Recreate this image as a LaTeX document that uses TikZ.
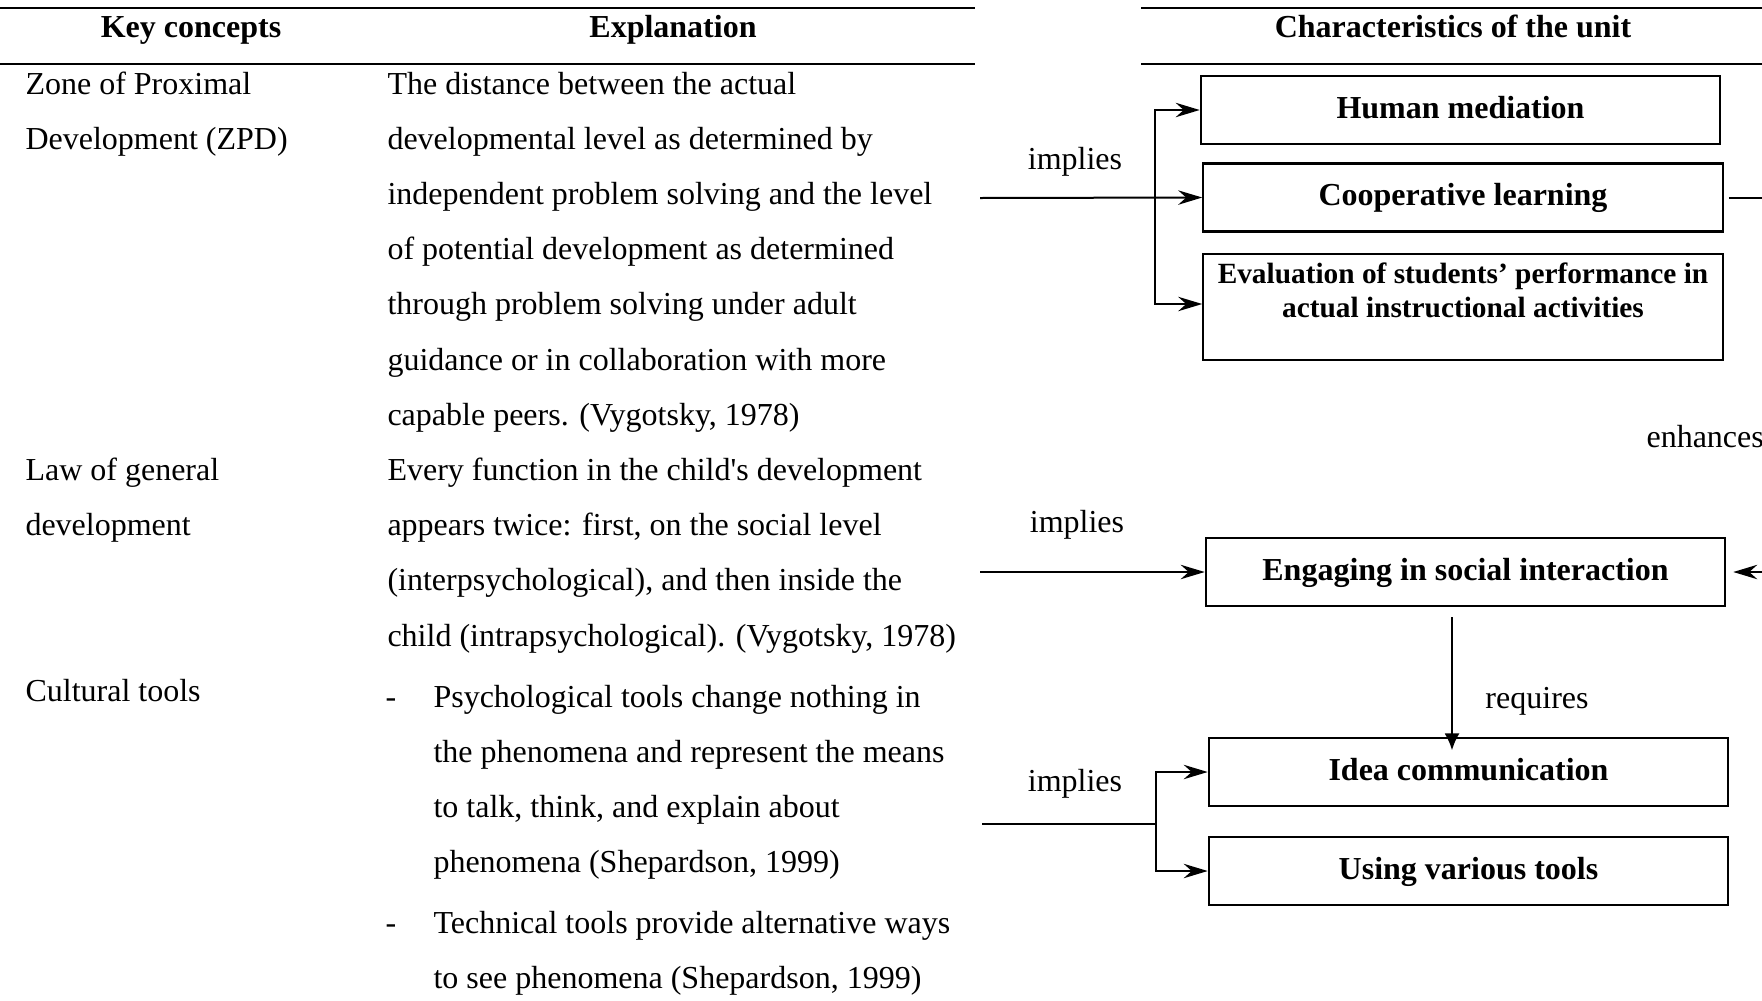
\documentclass[tikz,border=0pt]{standalone}
\usepackage{fontspec}
\setmainfont{Liberation Serif}
\usetikzlibrary{arrows.meta,calc}
\begin{document}
\begin{tikzpicture}[x=0.375pt,y=-0.375pt,
  body/.style={inner sep=0pt, font=\fontsize{12}{14}\selectfont},
  head/.style={inner sep=0pt, anchor=base, font=\fontsize{12}{14}\selectfont\bfseries},
  rule/.style={line width=1pt},
  box/.style={draw, line width=0.8pt, rectangle, inner sep=0pt, minimum width=194.8pt, minimum height=25.5pt,
    font=\fontsize{12}{14}\selectfont\bfseries, text height=0.75em, text depth=0.15em},
  conn/.style={line width=0.75pt},
  arr/.style={conn, -{Stealth[length=9pt,width=5.4pt,inset=3pt]}},
  lbl/.style={inner sep=0pt, font=\fontsize{12}{14}\selectfont, text height=0.75em, text depth=0.15em},
]
\useasboundingbox (0,0) rectangle (1762,1000);
\clip (0,0) rectangle (1762,1000);

% table rules
\draw[rule] (0,8) -- (975,8);
\draw[rule] (0,64) -- (975,64);
\draw[rule] (1141,8) -- (1762,8);
\draw[rule] (1141,64) -- (1762,64);

% headers
\node[head] (hkey) at (191,37) {Key concepts};
\node[head] (hexp) at (673,37) {Explanation};
\node[head] (hchar) at (1453,37) {Characteristics of the unit};

% key concepts column
\node[body, anchor=base west] (k1) at (25,94) {Zone of Proximal};
\node[body, anchor=base west] (k2) at (25,149.2) {Development (ZPD)};
\node[body, anchor=base west] (k3) at (25,480.4) {Law of general};
\node[body, anchor=base west] (k4) at (25,535.6) {development};
\node[body, anchor=base west] (k5) at (25,701) {Cultural tools};

% explanation column
\foreach \t [count=\i from 0] in {
  The distance between the actual,
  developmental level as determined by,
  independent problem solving and the level,
  of potential development as determined,
  through problem solving under adult,
  guidance or in collaboration with more,
  {capable peers. (Vygotsky, 1978)},
  Every function in the child\textquotesingle s development,
  {appears twice: first, on the social level},
  {(interpsychological), and then inside the},
  {child (intrapsychological). (Vygotsky, 1978)}}
  {\node[body, anchor=base west] (ex\i) at (387,{94+55.2*\i}) {\t};}

\foreach \t/\y [count=\i from 0] in {
  Psychological tools change nothing in/707,
  the phenomena and represent the means/762.2,
  {to talk, think, and explain about}/817.4,
  {phenomena (Shepardson, 1999)}/872.6,
  Technical tools provide alternative ways/933,
  {to see phenomena (Shepardson, 1999)}/988}
  {\node[body, anchor=base west] (bl\i) at (433,\y) {\t};}
\node[body, anchor=base west] (d1) at (385,707) {-};
\node[body, anchor=base west] (d2) at (385,933) {-};

% characteristic boxes
\node[box] (human) at (1460.5,110) {Human mediation};
\node[box] (coop) at (1463,197.5) {Cooperative learning};
\node[box, minimum height=39.75pt] (eval) at (1463,307) {};
\node[inner sep=0pt, align=center, font=\fontsize{11}{12.65}\selectfont\bfseries] (evaltxt) at (1463,290)
  {Evaluation of students’ performance in\\actual instructional activities};
\node[box] (engage) at (1465.5,572) {Engaging in social interaction};
\node[box] (idea) at (1468.5,772) {Idea communication};
\node[box] (using) at (1468.5,871) {Using various tools};

% connectors: first group
\coordinate (s1) at (980,198);
\coordinate (j1) at (1155,198);
\draw[arr] (s1) -- (coop.west);
\draw[arr] (j1) |- (human.west);
\draw[arr] (j1) |- ($(eval.west)+(0,-3)$);
\node[lbl] (imp1) at (1075,161) {implies};

% second
\coordinate (s2) at (980,572);
\draw[arr] (s2) -- (engage.west);
\node[lbl] (imp2) at (1077,524) {implies};

% third
\coordinate (s3) at (982,824);
\coordinate (j3) at (1156,824);
\draw[conn] (s3) -- (j3);
\draw[arr] (j3) |- (idea.west);
\draw[arr] (j3) |- (using.west);
\node[lbl] (imp3) at (1075,783) {implies};

% requires
\coordinate (r1) at (1452,617);
\draw[conn, -{Latex[length=6.3pt,width=5.6pt]}, shorten >=-5pt] (r1) -- (r1 |- idea.north);
\node[lbl] (req) at (1537,700) {requires};

% enhances
\draw[arr, shorten <=1.9pt, shorten >=2.6pt] (coop.east) -- ++(100,0) |- (engage.east);
\node[body, anchor=base west] (enh) at (1646,447) {enhances};
\end{tikzpicture}
\end{document}
